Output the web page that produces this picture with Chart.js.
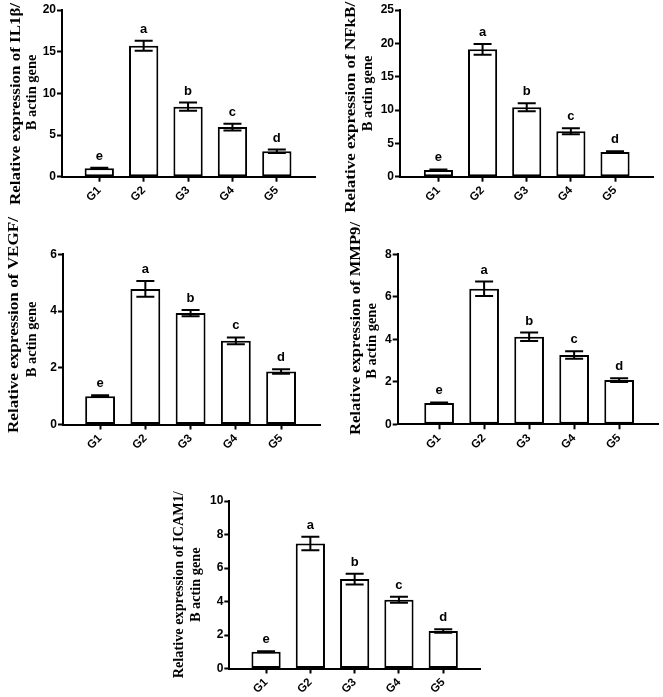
<!DOCTYPE html>
<html><head><meta charset="utf-8">
<script src="https://cdn.jsdelivr.net/npm/chart.js@4.4.0/dist/chart.umd.min.js"></script>
<style>
html,body{margin:0;padding:0;background:#fff;width:663px;height:697px;overflow:hidden;position:relative}
canvas{position:absolute}
</style></head><body>
<script>
// ---- data ----
const groups = ['G1', 'G2', 'G3', 'G4', 'G5'];
const sigLetters = ['e', 'a', 'b', 'c', 'd'];

const il1bMean = [1.0, 15.7, 8.4, 5.95, 3.05];
const il1bErr  = [0.08, 0.6, 0.5, 0.4, 0.2];
const nfkbMean = [1.0, 19.1, 10.4, 6.8, 3.7];
const nfkbErr  = [0.08, 0.8, 0.6, 0.45, 0.12];
const vegfMean = [1.0, 4.78, 3.93, 2.95, 1.87];
const vegfErr  = [0.03, 0.28, 0.11, 0.12, 0.08];
const mmp9Mean = [1.0, 6.38, 4.12, 3.26, 2.08];
const mmp9Err  = [0.03, 0.34, 0.2, 0.18, 0.09];
const icam1Mean = [1.0, 7.46, 5.34, 4.1, 2.24];
const icam1Err  = [0.03, 0.4, 0.32, 0.18, 0.1];

const geneNames = ['IL1β', 'NFkB', 'VEGF', 'MMP9', 'ICAM1'];
const yMaxes = [20, 25, 6, 8, 10];
const ySteps = [5, 5, 2, 2, 2];

// ---- layout (positions / sizes only) ----
const panels = [
  {mean: il1bMean, err: il1bErr, left: 2,   top: 0,   w: 318, h: 215, padTop: 10,   padRight: 5,   yW: 60,   xH: 38.3, xMin: 0.16, xMax: 5.86,
   t1: {dx: -46.5, dy: 10.6, size: 15.5, len: 202}, t2: {dx: -29.5, dy: -1, size: 14.5}},
  {mean: nfkbMean, err: nfkbErr, left: 340, top: 0,   w: 318, h: 215, padTop: 10,   padRight: 5,   yW: 60,   xH: 38.3, xMin: 0.13, xMax: 5.86,
   t1: {dx: -49, dy: 14, size: 15.5, len: 211}, t2: {dx: -32, dy: 0, size: 14.5}},
  {mean: vegfMean, err: vegfErr, left: 3,   top: 212, w: 322, h: 251, padTop: 42.3, padRight: 5,   yW: 60,   xH: 38.5, xMin: 0.18, xMax: 5.86,
   t1: {dx: -48.8, dy: -14.4, size: 15.5, len: 216}, t2: {dx: -30.5, dy: 0, size: 14.5}},
  {mean: mmp9Mean, err: mmp9Err, left: 337, top: 212, w: 326, h: 251, padTop: 42.3, padRight: 4.7, yW: 60.7, xH: 38.7, xMin: 0.08, xMax: 5.87,
   t1: {dx: -41.7, dy: -10.8, size: 15.5, len: 213}, t2: {dx: -25, dy: 1.7, size: 14.5}},
  {mean: icam1Mean, err: icam1Err, left: 169, top: 485, w: 316, h: 212, padTop: 16, padRight: 5,   yW: 60.3, xH: 28.5, xMin: 0.17, xMax: 5.83,
   t1: {dx: -50.3, dy: 0, size: 14.3, len: 187}, t2: {dx: -33.3, dy: 0, size: 14.3}}
];

const errorLetterPlugin = {
  id: 'errLetters',
  afterDatasetsDraw(chart, args, opts) {
    const ctx = chart.ctx;
    const xs = chart.scales.x, ys = chart.scales.y;
    ctx.save();
    ctx.strokeStyle = '#000';
    ctx.lineWidth = 2;
    ctx.fillStyle = '#000';
    ctx.font = 'bold 13px "Liberation Sans", Arial, sans-serif';
    ctx.textAlign = 'center';
    ctx.textBaseline = 'alphabetic';
    opts.mean.forEach((m, i) => {
      const x = xs.getPixelForValue(i + 1);
      const yt = ys.getPixelForValue(m + opts.err[i]);
      const yb = ys.getPixelForValue(m - opts.err[i]);
      ctx.beginPath();
      ctx.moveTo(x, yt); ctx.lineTo(x, yb);
      ctx.moveTo(x - 9, yt); ctx.lineTo(x + 9, yt);
      ctx.moveTo(x - 9, yb); ctx.lineTo(x + 9, yb);
      ctx.stroke();
      ctx.fillText(opts.letters[i], x, yt - 8);
    });
    ctx.restore();
  }
};

const yTitlePlugin = {
  id: 'yTitle',
  afterDraw(chart, args, opts) {
    const ctx = chart.ctx;
    const ca = chart.chartArea;
    const cy = (ca.top + ca.bottom) / 2;
    opts.lines.forEach((ln) => {
      ctx.save();
      ctx.font = 'bold ' + ln.size + 'px "Liberation Serif", "Times New Roman", serif';
      ctx.fillStyle = '#000';
      ctx.textAlign = 'center';
      ctx.textBaseline = 'middle';
      ctx.translate(ca.left + ln.dx, cy + ln.dy);
      ctx.rotate(-Math.PI / 2);
      if (ln.len) {
        const w = ctx.measureText(ln.text).width;
        ctx.scale(ln.len / w, 1);
      }
      ctx.fillText(ln.text, 0, 0);
      ctx.restore();
    });
  }
};

panels.forEach((p, k) => {
  const cv = document.createElement('canvas');
  cv.width = p.w; cv.height = p.h;
  cv.style.left = p.left + 'px'; cv.style.top = p.top + 'px';
  cv.style.width = p.w + 'px'; cv.style.height = p.h + 'px';
  document.body.appendChild(cv);
  const tickFont = {family: '"Liberation Sans", Arial, sans-serif', weight: 'bold', size: 12};
  new Chart(cv, {
    type: 'bar',
    data: {
      datasets: [{
        data: p.mean.map((v, i) => ({x: i + 1, y: v})),
        backgroundColor: '#ffffff',
        borderColor: '#000000',
        borderWidth: 2,
        borderSkipped: false,
        categoryPercentage: 1,
        barPercentage: 0.66
      }]
    },
    options: {
      responsive: false,
      animation: false,
      events: [],
      layout: {padding: {top: p.padTop, right: p.padRight, bottom: 0, left: 0}},
      plugins: {
        legend: {display: false},
        tooltip: {enabled: false},
        errLetters: {mean: p.mean, err: p.err, letters: sigLetters},
        yTitle: {lines: [
          Object.assign({text: 'Relative expression of ' + geneNames[k] + '/'}, p.t1),
          Object.assign({text: 'B actin gene'}, p.t2)
        ]}
      },
      scales: {
        x: {
          type: 'linear',
          min: p.xMin, max: p.xMax,
          offset: false,
          afterBuildTicks: (ax) => { ax.ticks = groups.map((g, i) => ({value: i + 1})); },
          afterFit: (ax) => { ax.height = p.xH; },
          grid: {display: true, offset: false, drawOnChartArea: false, drawTicks: true, tickLength: 5, tickWidth: 2, tickColor: '#000'},
          border: {display: true, color: '#000', width: 2},
          ticks: {
            autoSkip: false, minRotation: 45, maxRotation: 45, padding: 2,
            color: '#000', font: {family: '"Liberation Sans", Arial, sans-serif', weight: 'bold', size: 11.5},
            callback: (v) => groups[Math.round(v) - 1] || ''
          }
        },
        y: {
          min: 0, max: yMaxes[k],
          afterFit: (ax) => { ax.width = p.yW; },
          grid: {display: true, drawOnChartArea: false, drawTicks: true, tickLength: 5, tickWidth: 2, tickColor: '#000'},
          border: {display: true, color: '#000', width: 2},
          ticks: {stepSize: ySteps[k], padding: 1, color: '#000', font: tickFont},
          title: {display: false}
        }
      }
    },
    plugins: [errorLetterPlugin, yTitlePlugin]
  });
});
</script>
</body></html>
